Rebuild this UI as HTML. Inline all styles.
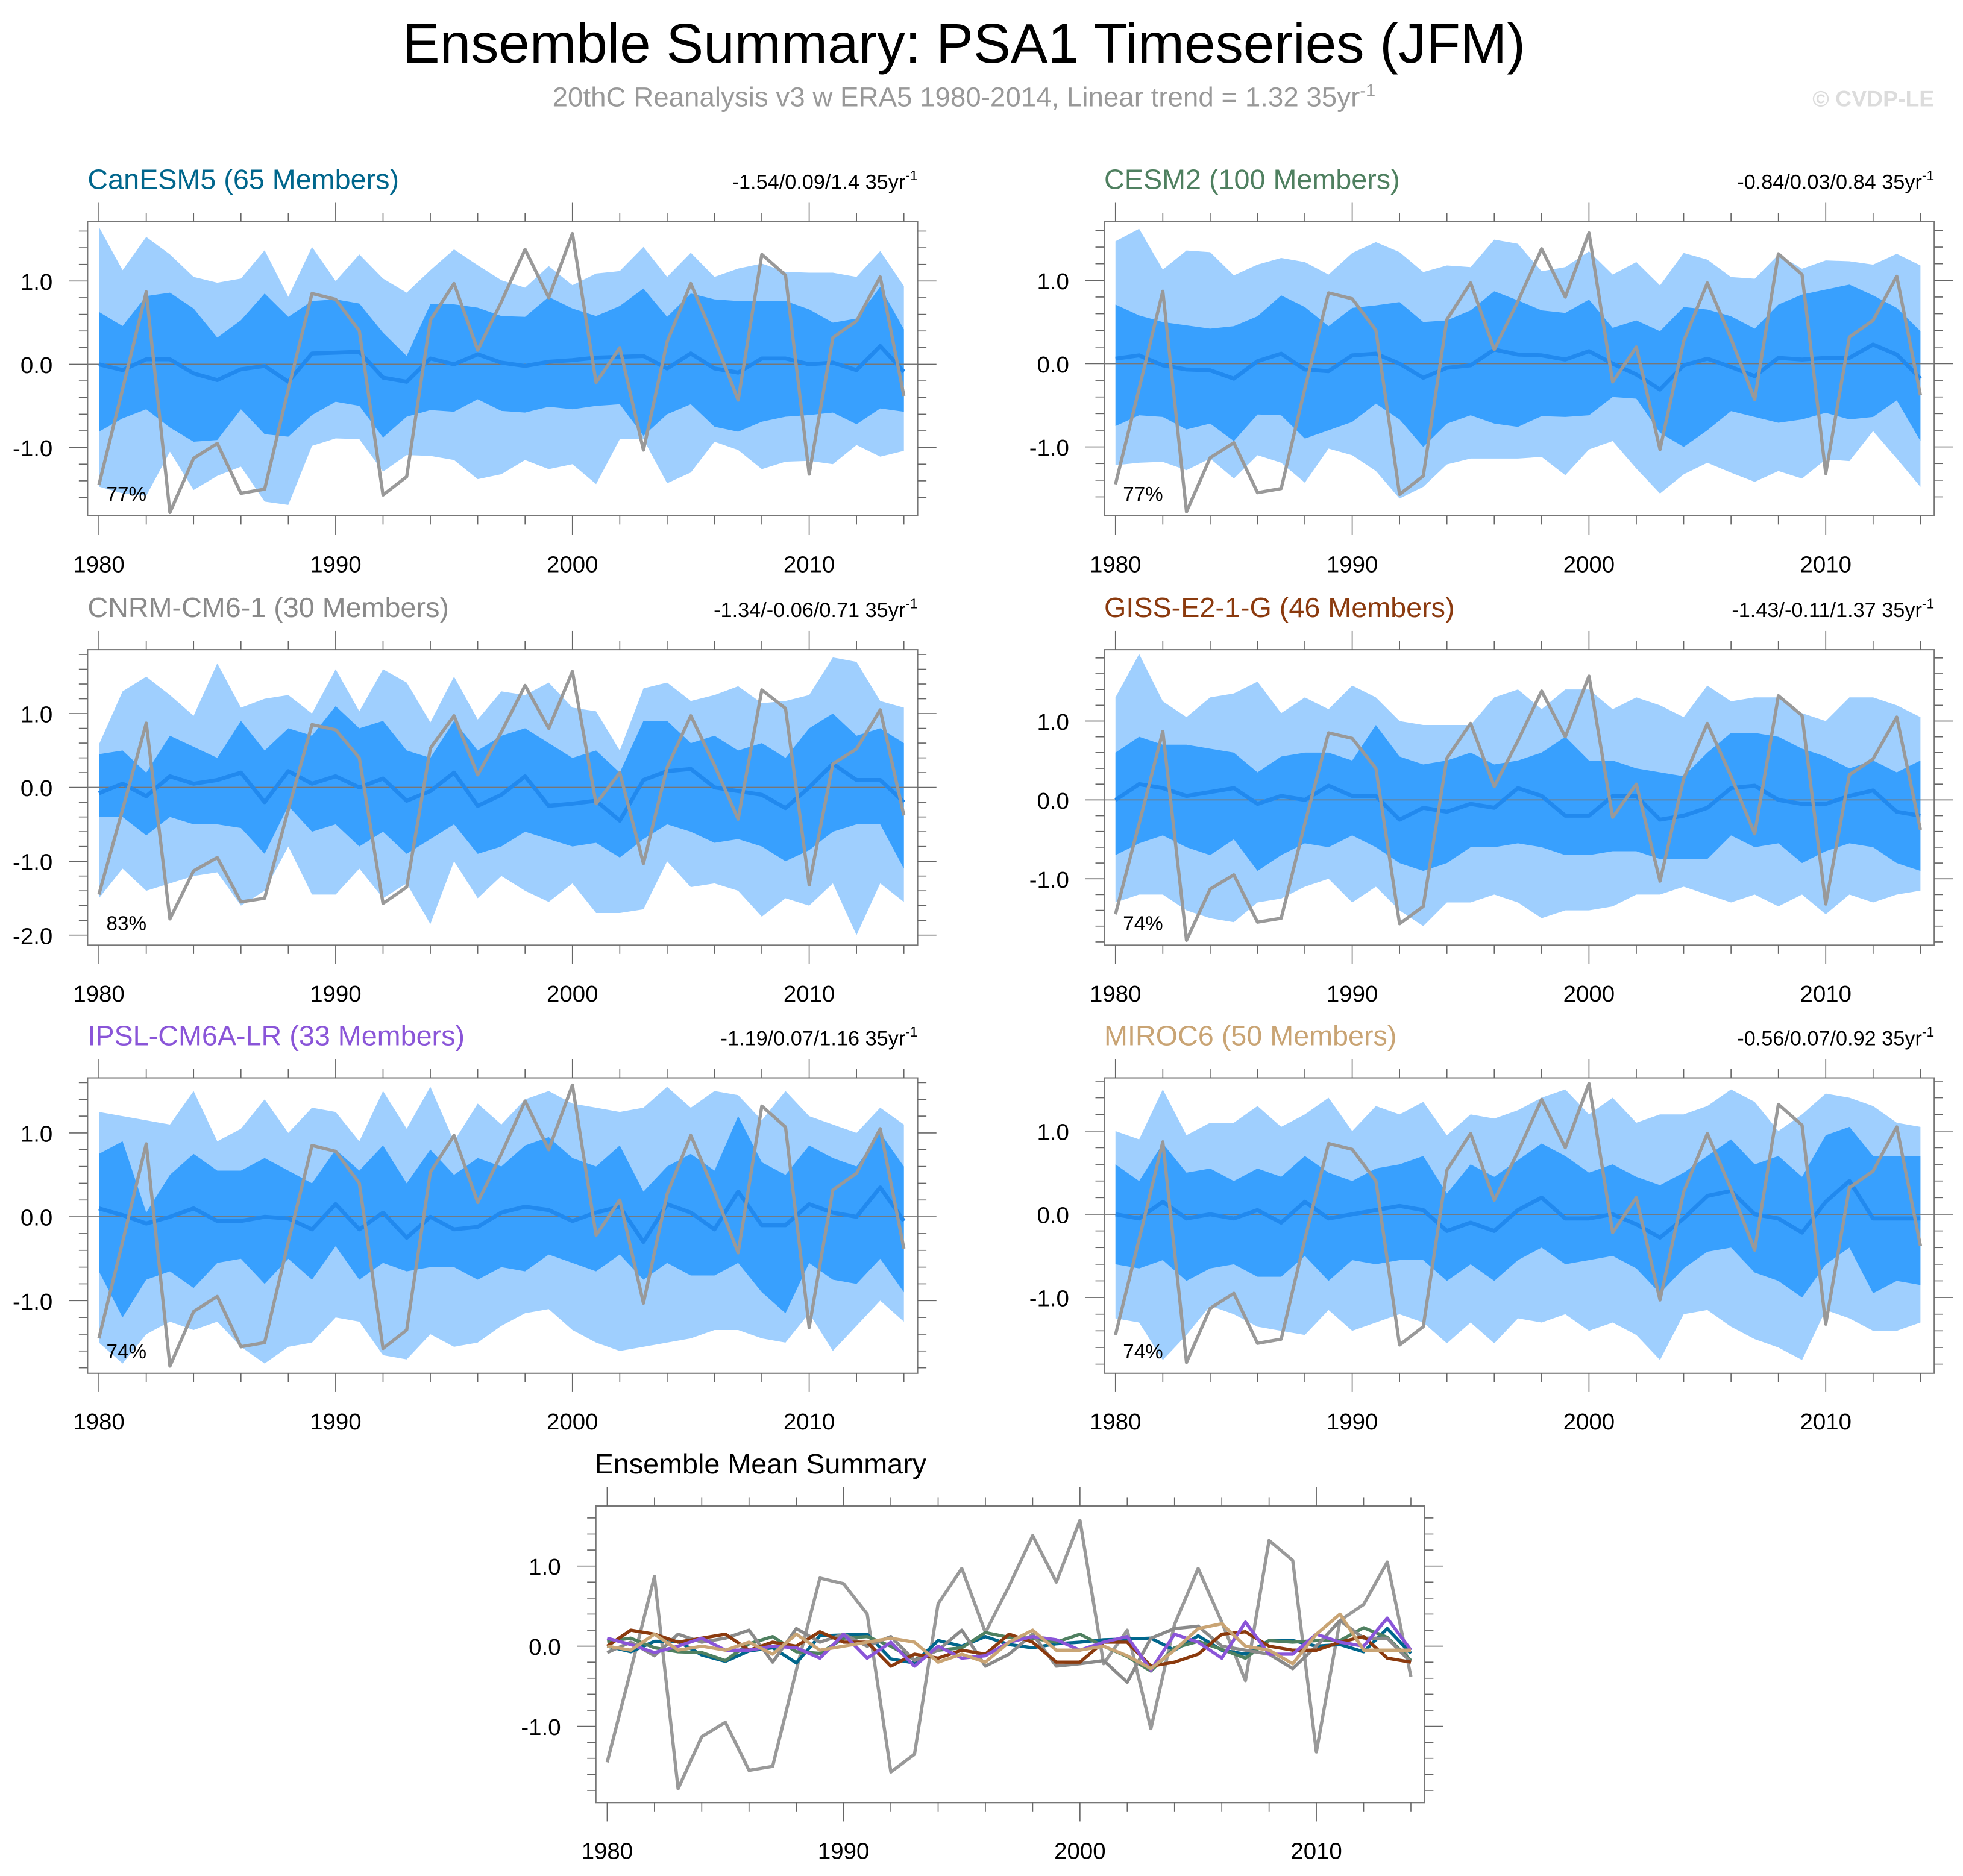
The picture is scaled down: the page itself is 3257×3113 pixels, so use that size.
<!DOCTYPE html>
<html><head><meta charset="utf-8"><style>
html,body{margin:0;padding:0;background:#fff}
svg{display:block}
text{font-family:"Liberation Sans",sans-serif}
</style></head><body>
<svg id="chart" width="3257" height="3113" viewBox="0 0 1568 1498.6" preserveAspectRatio="none" xmlns="http://www.w3.org/2000/svg">
<text x="770" y="50" font-size="44.6" text-anchor="middle" fill="#000">Ensemble Summary: PSA1 Timeseries (JFM)</text>
<text x="770" y="85" font-size="22" text-anchor="middle" fill="#999">20thC Reanalysis v3 w ERA5 1980-2014, Linear trend = 1.32 35yr<tspan dy="-8" font-size="14">-1</tspan></text>
<text x="1545" y="85" font-size="18" font-weight="bold" text-anchor="end" fill="#dcdcdc">© CVDP-LE</text>
<g id="plots"></g>
</svg>
<script>
const years = [];
for (let y = 1980; y <= 2014; y++) years.push(y);
const xTickLabels = ["1980","1990","2000","2010"];
const obs = [-1.45,-0.3,0.87,-1.78,-1.13,-0.95,-1.55,-1.5,-0.3,0.85,0.78,0.4,-1.57,-1.35,0.53,0.97,0.17,0.75,1.38,0.8,1.57,-0.22,0.2,-1.03,0.27,0.97,0.3,-0.43,1.32,1.07,-1.32,0.32,0.52,1.05,-0.38];

const canMean = [0.0,-0.07,0.06,0.06,-0.11,-0.19,-0.06,-0.02,-0.21,0.13,0.14,0.15,-0.16,-0.21,0.07,0.0,0.12,0.02,-0.02,0.03,0.05,0.08,0.09,0.1,-0.05,0.13,-0.05,-0.1,0.07,0.07,0.0,0.02,-0.07,0.22,-0.09];
const canDarkHi = [0.63,0.46,0.82,0.86,0.67,0.32,0.53,0.85,0.57,0.76,0.78,0.73,0.38,0.1,0.72,0.72,0.68,0.58,0.57,0.81,0.67,0.58,0.7,0.91,0.57,0.85,0.78,0.76,0.76,0.76,0.66,0.5,0.55,0.93,0.42];
const canDarkLo = [-0.81,-0.65,-0.54,-0.76,-0.93,-0.91,-0.54,-0.84,-0.87,-0.61,-0.45,-0.5,-0.88,-0.63,-0.55,-0.57,-0.42,-0.56,-0.58,-0.51,-0.54,-0.5,-0.48,-0.86,-0.6,-0.48,-0.75,-0.81,-0.69,-0.63,-0.61,-0.58,-0.72,-0.53,-0.57];
const canLightHi = [1.65,1.13,1.53,1.32,1.05,0.98,1.03,1.37,0.81,1.41,1.0,1.32,1.03,0.86,1.13,1.38,1.19,1.01,0.92,1.18,0.95,1.09,1.12,1.41,1.05,1.34,1.05,1.15,1.21,1.11,1.1,1.1,1.05,1.36,0.94];
const canLightLo = [-1.47,-1.55,-1.58,-1.05,-1.51,-1.34,-1.23,-1.65,-1.69,-0.98,-0.89,-0.9,-1.29,-1.09,-1.1,-1.15,-1.38,-1.32,-1.15,-1.26,-1.2,-1.44,-0.9,-0.9,-1.43,-1.3,-0.93,-1.03,-1.26,-1.17,-1.16,-1.2,-0.97,-1.11,-1.04];

const cesMean = [0.06,0.1,-0.02,-0.07,-0.08,-0.18,0.03,0.12,-0.07,-0.09,0.1,0.12,0.0,-0.17,-0.05,-0.02,0.17,0.11,0.1,0.05,0.15,0.0,-0.13,-0.31,-0.02,0.06,-0.04,-0.15,0.07,0.05,0.07,0.07,0.23,0.11,-0.18];
const cesDarkHi = [0.71,0.58,0.5,0.46,0.42,0.45,0.57,0.82,0.68,0.45,0.67,0.7,0.74,0.5,0.52,0.64,0.87,0.76,0.64,0.61,0.77,0.43,0.52,0.39,0.68,0.65,0.57,0.42,0.71,0.83,0.89,0.95,0.82,0.67,0.39];
const cesDarkLo = [-0.75,-0.62,-0.64,-0.79,-0.72,-0.93,-0.61,-0.62,-0.9,-0.8,-0.7,-0.48,-0.67,-1.0,-0.72,-0.62,-0.72,-0.76,-0.63,-0.64,-0.62,-0.4,-0.42,-0.83,-1.0,-0.8,-0.57,-0.64,-0.71,-0.67,-0.59,-0.67,-0.64,-0.44,-0.93];
const cesLightHi = [1.47,1.62,1.13,1.36,1.34,1.06,1.19,1.27,1.22,1.07,1.33,1.46,1.34,1.1,1.18,1.16,1.49,1.44,1.11,1.16,1.35,1.07,1.22,0.94,1.33,1.25,1.04,1.02,1.31,1.14,1.24,1.23,1.19,1.32,1.18];
const cesLightLo = [-1.22,-1.19,-1.18,-1.28,-1.14,-1.38,-1.1,-1.19,-1.43,-1.02,-1.1,-1.29,-1.62,-1.48,-1.21,-1.14,-1.14,-1.14,-1.12,-1.34,-1.03,-0.93,-1.26,-1.56,-1.33,-1.19,-1.31,-1.42,-1.29,-1.38,-1.15,-1.17,-0.81,-1.14,-1.48];

const cnrMean = [-0.08,0.05,-0.12,0.15,0.05,0.1,0.2,-0.2,0.22,0.05,0.15,0.0,0.12,-0.18,-0.05,0.2,-0.25,-0.1,0.15,-0.25,-0.22,-0.18,-0.45,0.1,0.22,0.25,0.0,-0.05,-0.1,-0.28,0.0,0.32,0.1,0.1,-0.2];
const cnrDarkHi = [0.45,0.5,0.2,0.7,0.55,0.4,0.9,0.5,0.8,0.7,1.1,0.8,0.9,0.5,0.4,0.9,0.5,0.7,0.8,0.6,0.4,0.5,0.2,0.9,0.9,0.6,0.7,0.5,0.6,0.4,0.8,1.0,0.7,0.8,0.6];
const cnrDarkLo = [-0.4,-0.4,-0.65,-0.4,-0.5,-0.5,-0.55,-0.9,-0.25,-0.6,-0.5,-0.8,-0.6,-0.9,-0.7,-0.5,-0.9,-0.8,-0.6,-0.7,-0.8,-0.75,-0.95,-0.7,-0.5,-0.6,-0.75,-0.7,-0.8,-1.0,-0.85,-0.6,-0.5,-0.5,-1.1];
const cnrLightHi = [0.58,1.3,1.5,1.25,0.97,1.68,1.08,1.2,1.25,1.0,1.6,1.03,1.6,1.42,0.88,1.5,0.92,1.3,1.25,1.42,1.08,1.03,0.5,1.34,1.42,1.17,1.25,1.37,1.14,1.17,1.25,1.76,1.7,1.17,1.08];
const cnrLightLo = [-1.5,-1.1,-1.4,-1.3,-1.2,-1.15,-1.6,-1.4,-0.8,-1.45,-1.45,-1.1,-1.5,-1.3,-1.85,-1.0,-1.5,-1.2,-1.4,-1.55,-1.3,-1.7,-1.7,-1.65,-1.0,-1.35,-1.3,-1.4,-1.75,-1.5,-1.6,-1.3,-2.0,-1.3,-1.55];

const gisMean = [0.0,0.2,0.15,0.05,0.1,0.15,-0.05,0.05,0.0,0.18,0.05,0.05,-0.25,-0.1,-0.15,-0.05,-0.1,0.15,0.05,-0.2,-0.2,0.05,0.05,-0.25,-0.2,-0.1,0.15,0.18,0.0,-0.05,-0.05,0.05,0.12,-0.15,-0.2];
const gisDarkHi = [0.6,0.8,0.7,0.7,0.65,0.6,0.35,0.55,0.6,0.6,0.5,0.95,0.55,0.45,0.5,0.6,0.45,0.5,0.6,0.8,0.5,0.5,0.4,0.35,0.3,0.6,0.85,0.85,0.8,0.65,0.55,0.4,0.5,0.35,0.5];
const gisDarkLo = [-0.7,-0.55,-0.45,-0.6,-0.7,-0.5,-0.9,-0.7,-0.55,-0.6,-0.45,-0.6,-0.8,-0.9,-0.8,-0.6,-0.6,-0.55,-0.6,-0.7,-0.7,-0.65,-0.65,-0.75,-0.75,-0.75,-0.45,-0.6,-0.55,-0.8,-0.65,-0.55,-0.6,-0.8,-0.9];
const gisLightHi = [1.3,1.85,1.25,1.05,1.3,1.35,1.5,1.1,1.3,1.15,1.45,1.3,1.0,0.95,0.95,0.95,1.3,1.4,1.15,1.4,1.4,1.15,1.3,1.2,1.05,1.45,1.25,1.3,1.3,1.1,1.0,1.3,1.3,1.2,1.05];
const gisLightLo = [-1.3,-1.2,-1.2,-1.4,-1.5,-1.55,-1.3,-1.25,-1.1,-1.0,-1.3,-1.1,-1.4,-1.6,-1.3,-1.3,-1.2,-1.3,-1.5,-1.4,-1.4,-1.35,-1.2,-1.2,-1.1,-1.2,-1.3,-1.2,-1.35,-1.2,-1.45,-1.2,-1.3,-1.2,-1.15];

const ipsMean = [0.1,0.02,-0.08,0.0,0.1,-0.05,-0.05,0.0,-0.02,-0.15,0.15,-0.15,0.05,-0.25,0.0,-0.15,-0.12,0.05,0.12,0.08,-0.05,0.05,0.12,-0.3,0.15,0.05,-0.15,0.3,-0.1,-0.1,0.15,0.05,0.0,0.35,-0.05];
const ipsDarkHi = [0.75,0.9,0.05,0.5,0.75,0.55,0.55,0.7,0.55,0.4,0.8,0.55,0.85,0.4,0.8,0.5,0.7,0.6,0.85,0.95,0.7,0.6,0.85,0.3,0.6,0.75,0.55,1.2,0.65,0.5,0.85,0.7,0.6,1.0,0.6];
const ipsDarkLo = [-0.65,-1.2,-0.75,-0.65,-0.85,-0.55,-0.5,-0.8,-0.5,-0.75,-0.35,-0.75,-0.55,-0.65,-0.6,-0.6,-0.75,-0.6,-0.65,-0.45,-0.55,-0.65,-0.45,-0.75,-0.55,-0.7,-0.7,-0.55,-0.9,-1.15,-0.55,-0.75,-0.8,-0.5,-0.9];
const ipsLightHi = [1.25,1.2,1.15,1.1,1.5,0.9,1.05,1.4,1.0,1.3,1.25,0.9,1.5,1.05,1.55,0.9,1.35,1.1,1.4,1.5,1.35,1.3,1.25,1.3,1.55,1.3,1.5,1.45,1.15,1.5,1.2,1.1,1.0,1.3,1.1];
const ipsLightLo = [-1.5,-1.75,-1.4,-1.25,-1.35,-1.25,-1.55,-1.75,-1.55,-1.5,-1.2,-1.25,-1.65,-1.7,-1.4,-1.55,-1.5,-1.3,-1.15,-1.1,-1.35,-1.5,-1.6,-1.55,-1.5,-1.45,-1.35,-1.35,-1.45,-1.5,-1.15,-1.6,-1.3,-1.0,-1.25];

const mirMean = [0.0,-0.05,0.15,-0.05,0.0,-0.05,0.05,-0.1,0.15,-0.05,0.0,0.05,0.1,0.05,-0.2,-0.1,-0.2,0.05,0.2,-0.05,-0.05,0.0,-0.12,-0.28,-0.05,0.22,0.28,0.0,-0.05,-0.22,0.15,0.4,-0.05,-0.05,-0.05];
const mirDarkHi = [0.6,0.4,0.85,0.5,0.55,0.4,0.55,0.45,0.7,0.5,0.4,0.55,0.6,0.7,0.25,0.6,0.45,0.65,0.85,0.7,0.5,0.6,0.45,0.35,0.5,0.7,0.9,0.6,0.7,0.45,0.95,1.05,0.7,0.7,0.7];
const mirDarkLo = [-0.6,-0.65,-0.55,-0.8,-0.65,-0.6,-0.75,-0.75,-0.5,-0.8,-0.55,-0.6,-0.55,-0.55,-0.8,-0.6,-0.8,-0.55,-0.4,-0.6,-0.55,-0.5,-0.65,-0.95,-0.65,-0.45,-0.4,-0.7,-0.8,-1.0,-0.6,-0.4,-0.95,-0.8,-0.85];
const mirLightHi = [1.0,0.9,1.5,0.95,1.1,1.1,1.3,1.05,1.2,1.4,1.0,1.3,1.2,1.35,0.95,1.2,1.15,1.25,1.4,1.5,1.2,1.4,1.1,1.2,1.2,1.3,1.5,1.35,1.0,1.2,1.45,1.4,1.3,1.1,1.05];
const mirLightLo = [-1.25,-1.3,-1.75,-1.45,-1.1,-1.2,-1.35,-1.4,-1.45,-1.15,-1.4,-1.3,-1.2,-1.3,-1.55,-1.3,-1.55,-1.25,-1.3,-1.2,-1.4,-1.3,-1.45,-1.75,-1.2,-1.15,-1.35,-1.5,-1.6,-1.75,-1.15,-1.25,-1.4,-1.4,-1.3];

const modelNames = ["CanESM5 (65 Members)","CESM2 (100 Members)","CNRM-CM6-1 (30 Members)","GISS-E2-1-G (46 Members)","IPSL-CM6A-LR (33 Members)","MIROC6 (50 Members)"];
const trendLabels = ["-1.54/0.09/1.4","-0.84/0.03/0.84","-1.34/-0.06/0.71","-1.43/-0.11/1.37","-1.19/0.07/1.16","-0.56/0.07/0.92"];
const pctLabels = ["77%","77%","83%","74%","74%","74%"];

const modelColors = ["#00668c","#4f8060","#8a8a8a","#8b3a0e","#8a55d8","#c9a474"];
const panels = [
 {x0:70,x1:733,y0:177,y1:412,zero:291,unit:66.5,yt:[1,0,-1],ymin:-1.8,ymax:1.8},
 {x0:882,x1:1545,y0:177,y1:412,zero:290.5,unit:66.5,yt:[1,0,-1],ymin:-1.8,ymax:1.8},
 {x0:70,x1:733,y0:519,y1:755,zero:629,unit:59,yt:[1,0,-1,-2],ymin:-2.2,ymax:1.8},
 {x0:882,x1:1545,y0:519,y1:755,zero:639,unit:63,yt:[1,0,-1],ymin:-1.8,ymax:1.8},
 {x0:70,x1:733,y0:861,y1:1097,zero:972,unit:67,yt:[1,0,-1],ymin:-1.8,ymax:1.8},
 {x0:882,x1:1545,y0:861,y1:1097,zero:970,unit:66.5,yt:[1,0,-1],ymin:-1.8,ymax:1.8}
];
const modelData = [
 [canMean,canDarkHi,canDarkLo,canLightHi,canLightLo],
 [cesMean,cesDarkHi,cesDarkLo,cesLightHi,cesLightLo],
 [cnrMean,cnrDarkHi,cnrDarkLo,cnrLightHi,cnrLightLo],
 [gisMean,gisDarkHi,gisDarkLo,gisLightHi,gisLightLo],
 [ipsMean,ipsDarkHi,ipsDarkLo,ipsLightHi,ipsLightLo],
 [mirMean,mirDarkHi,mirDarkLo,mirLightHi,mirLightLo]
];

const NS = "http://www.w3.org/2000/svg";
const root = document.getElementById("plots");
function mk(tag, attrs, parent) {
  const e = document.createElementNS(NS, tag);
  for (const k in attrs) e.setAttribute(k, attrs[k]);
  (parent || root).appendChild(e);
  return e;
}
function xScale(p, yr) { return p.x0 + 9 + (yr - 1980) * (p.x1 - p.x0 - 20) / 34; }
function yScale(p, v) { return p.zero - v * p.unit; }
function linePts(p, arr) { return arr.map((v, i) => xScale(p, years[i]).toFixed(2) + "," + yScale(p, v).toFixed(2)).join(" "); }
function bandPts(p, hi, lo) {
  const a = hi.map((v, i) => xScale(p, years[i]).toFixed(2) + "," + yScale(p, v).toFixed(2));
  const b = lo.map((v, i) => xScale(p, years[i]).toFixed(2) + "," + yScale(p, v).toFixed(2)).reverse();
  return a.concat(b).join(" ");
}
function axes(p, g, key) {
  const fr = mk("rect", {x:p.x0, y:p.y0, width:p.x1-p.x0, height:p.y1-p.y0, fill:"none", stroke:"#777", "stroke-width":1}, g);
  
  
  for (let yr = 1980; yr <= 2014; yr += 2) {
    const major = yr % 10 === 0;
    const L = major ? 15 : 7;
    const x = xScale(p, yr);
    const t1 = mk("line", {x1:x, x2:x, y1:p.y0, y2:p.y0-L, stroke:"#666", "stroke-width":0.8}, g);
    
    
    const t2 = mk("line", {x1:x, x2:x, y1:p.y1, y2:p.y1+L, stroke:"#666", "stroke-width":0.8}, g);
    
    
  }
  xTickLabels.forEach(lab => {
    const t = mk("text", {x:xScale(p, +lab), y:p.y1+45, "font-size":18.5, "text-anchor":"middle", fill:"#000"}, g);
    t.textContent = lab;
    
    
  });
  for (let k = Math.ceil(p.ymin*5); k <= Math.floor(p.ymax*5); k++) {
    const v = k/5;
    const y = yScale(p, v);
    if (y < p.y0 + 2 || y > p.y1 - 2) continue;
    const major = k % 5 === 0;
    const L = major ? 15 : 7;
    const t1 = mk("line", {x1:p.x0, x2:p.x0-L, y1:y, y2:y, stroke:"#666", "stroke-width":0.8}, g);
    
    
    const t2 = mk("line", {x1:p.x1, x2:p.x1+L, y1:y, y2:y, stroke:"#666", "stroke-width":0.8}, g);
    
    
  }
  p.yt.forEach(v => {
    const t = mk("text", {x:p.x0-28, y:yScale(p, v)+7, "font-size":18.5, "text-anchor":"end", fill:"#000"}, g);
    t.textContent = v.toFixed(1);
    
    
  });
}

panels.forEach((p, i) => {
  const key = "panel-" + (i+1);
  const g = mk("g", {});
  
  
  const d = modelData[i];
  const cp = mk("clipPath", {id:"clip"+i}, g);
  mk("rect", {x:p.x0, y:p.y0, width:p.x1-p.x0, height:p.y1-p.y0}, cp);
  const lb = mk("polygon", {points:bandPts(p, d[3], d[4]), fill:"#9fcffe", "clip-path":"url(#clip"+i+")"}, g);
  
  
  const db = mk("polygon", {points:bandPts(p, d[1], d[2]), fill:"#38a0fe", "clip-path":"url(#clip"+i+")"}, g);
  
  
  const zl = mk("line", {x1:p.x0, x2:p.x1, y1:yScale(p,0), y2:yScale(p,0), stroke:"#777", "stroke-width":0.9}, g);
  
  
  const ml = mk("polyline", {points:linePts(p, d[0]), fill:"none", stroke:"#2189ee", "stroke-width":3.2, "stroke-linejoin":"round"}, g);
  
  
  const ol = mk("polyline", {points:linePts(p, obs), fill:"none", stroke:"#999", "stroke-width":2.6, "stroke-linejoin":"round", "clip-path":"url(#clip"+i+")"}, g);
  
  
  axes(p, g, key);
  const tt = mk("text", {x:p.x0, y:p.y0-26, "font-size":22.5, fill:modelColors[i]}, g);
  tt.textContent = modelNames[i];
  
  
  const tr = mk("text", {x:p.x1, y:p.y0-26, "font-size":16.5, "text-anchor":"end", fill:"#000"}, g);
  tr.textContent = trendLabels[i] + " 35yr";
  const sup = mk("tspan", {dy:-7, "font-size":11}, tr);
  sup.textContent = "-1";
  
  
  const pc = mk("text", {x:p.x0+15, y:p.y1-12, "font-size":16, fill:"#000"}, g);
  pc.textContent = pctLabels[i];
  
  
});

const sp = {x0:476,x1:1138,y0:1203,y1:1440,zero:1315,unit:64,yt:[1,0,-1],ymin:-1.8,ymax:1.8};
const sg = mk("g", {});


const sobs = mk("polyline", {points:linePts(sp, obs), fill:"none", stroke:"#999", "stroke-width":2.6, "stroke-linejoin":"round"}, sg);


modelData.forEach((d, i) => {
  const l = mk("polyline", {points:linePts(sp, d[0]), fill:"none", stroke:modelColors[i], "stroke-width":2.6, "stroke-linejoin":"round"}, sg);
  
  
});
axes(sp, sg, "summary");
const st = mk("text", {x:475, y:1177, "font-size":22.5, fill:"#000"}, sg);
st.textContent = "Ensemble Mean Summary";


</script>
</body></html>
